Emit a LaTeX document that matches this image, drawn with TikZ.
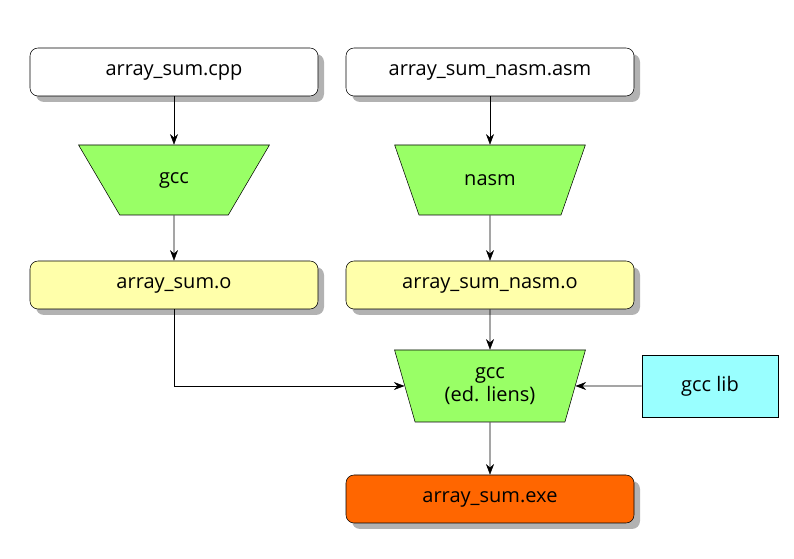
\documentclass[tikz,border=0pt]{standalone}
\usepackage{fontspec}
\setmainfont{Open Sans}
\usetikzlibrary{shapes.geometric,shadows,arrows.meta}
\definecolor{filegreen}{RGB}{153,255,102}
\definecolor{objyellow}{RGB}{255,255,170}
\definecolor{libcyan}{RGB}{153,255,255}
\definecolor{exeorange}{RGB}{255,102,0}
\tikzset{
  filebox/.style={draw,rounded corners=6pt,minimum width=288*0.75pt,minimum height=48*0.75pt,
    font=\fontsize{15}{17}\selectfont,drop shadow={shadow xshift=4.5pt,shadow yshift=-4.5pt,fill=gray!60,opacity=1}},
  tool/.style={draw,trapezium,shape border rotate=180,trapezium stretches=true,fill=filegreen,
    minimum width=191*0.75pt,minimum height=70*0.75pt,font=\fontsize{15}{17}\selectfont,align=center,inner sep=1pt},
  flow/.style={-{Stealth[length=8pt,width=6pt]}}
}
\begin{document}
\begin{tikzpicture}[x=0.75pt,y=-0.75pt]
\useasboundingbox (0,0) rectangle (794,559);
\node[filebox,fill=white] (cpp) at (174,72) {array\_sum.cpp};
\node[filebox,fill=white] (asm) at (490,72) {array\_sum\_nasm.asm};
\node[tool,trapezium angle=56] (gcc) at (174,180) {gcc};
\node[tool,trapezium angle=56] (nasm) at (490,180) {nasm};
\node[filebox,fill=objyellow] (obj1) at (174,285) {array\_sum.o};
\node[filebox,fill=objyellow] (obj2) at (490,285) {array\_sum\_nasm.o};
\node[tool,trapezium angle=72,minimum height=72*0.75pt] (link) at (490,386) {gcc\\(ed. liens)};
\node[draw,fill=libcyan,minimum width=136*0.75pt,minimum height=62*0.75pt,font=\fontsize{15}{17}\selectfont] (lib) at (710,386) {gcc lib};
\node[filebox,fill=exeorange] (exe) at (490,499) {array\_sum.exe};
\draw[flow] (cpp) -- (gcc);
\draw[flow] (gcc) -- (obj1);
\draw[flow] (asm) -- (nasm);
\draw[flow] (nasm) -- (obj2);
\draw[flow] (obj2) -- (link);
\draw[flow] (obj1.south) |- (link.west);
\draw[flow] (lib) -- (link.east);
\draw[flow] (link) -- (exe);
\end{tikzpicture}
\end{document}
